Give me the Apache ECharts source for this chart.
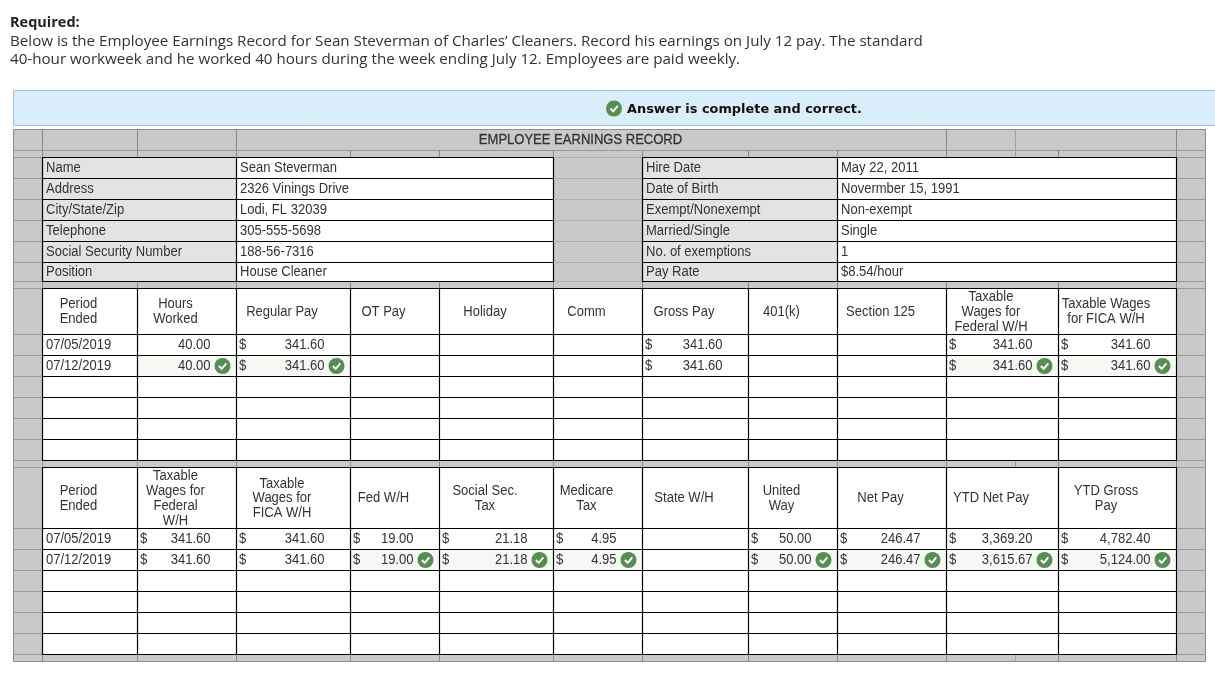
<!DOCTYPE html>
<html>
<head>
<meta charset="utf-8">
<title>Employee Earnings Record</title>
<script src="https://cdn.jsdelivr.net/npm/echarts@6/dist/echarts.min.js"></script>
<style>
html, body { margin: 0; padding: 0; background: #fff; }
#chart { width: 1215px; height: 693px; }
</style>
</head>
<body>
<div id="chart"></div>
<script>
// page text
var requiredLabel = 'Required:';
var promptLines = [
	'Below is the Employee Earnings Record for Sean Steverman of Charles\u2019 Cleaners. Record his earnings on July 12 pay. The standard',
	'40-hour workweek and he worked 40 hours during the week ending July 12. Employees are paid weekly.'
];
var answerText = 'Answer is complete and correct.';
var tableTitle = 'EMPLOYEE EARNINGS RECORD';

// employee info block
var infoLabelsLeft = ['Name', 'Address', 'City/State/Zip', 'Telephone', 'Social Security Number', 'Position'];
var infoValuesLeft = ['Sean Steverman', '2326 Vinings Drive', 'Lodi, FL 32039', '305-555-5698', '188-56-7316', 'House Cleaner'];
var infoLabelsRight = ['Hire Date', 'Date of Birth', 'Exempt/Nonexempt', 'Married/Single', 'No. of exemptions', 'Pay Rate'];
var infoValuesRight = ['May 22, 2011', 'Novermber 15, 1991', 'Non-exempt', 'Single', '1', '$8.54/hour'];

// earnings block, one entry per column
var earningsHeaders = [
	['Period', 'Ended'], ['Hours', 'Worked'], ['Regular Pay'], ['OT Pay'], ['Holiday'], ['Comm'],
	['Gross Pay'], ['401(k)'], ['Section 125'], ['Taxable', 'Wages for', 'Federal W/H'], ['Taxable Wages', 'for FICA W/H']
];
var earningsWeek1 = ['07/05/2019', '40.00', '341.60', '', '', '', '341.60', '', '', '341.60', '341.60'];
var earningsWeek2 = ['07/12/2019', '40.00', '341.60', '', '', '', '341.60', '', '', '341.60', '341.60'];
var earningsChecked = [1, 2, 9, 10];

// deductions block, one entry per column
var deductionHeaders = [
	['Period', 'Ended'], ['Taxable', 'Wages for', 'Federal', 'W/H'], ['Taxable', 'Wages for', 'FICA W/H'], ['Fed W/H'],
	['Social Sec.', 'Tax'], ['Medicare', 'Tax'], ['State W/H'], ['United', 'Way'], ['Net Pay'], ['YTD Net Pay'], ['YTD Gross', 'Pay']
];
var deductionWeek1 = ['07/05/2019', '341.60', '341.60', '19.00', '21.18', '4.95', '', '50.00', '246.47', '3,369.20', '4,782.40'];
var deductionWeek2 = ['07/12/2019', '341.60', '341.60', '19.00', '21.18', '4.95', '', '50.00', '246.47', '3,615.67', '5,124.00'];
var deductionChecked = [3, 4, 5, 7, 8, 9, 10];

// layout of the table, in page pixels
var colX = [42.5, 137.5, 236.5, 350.5, 439.5, 553.5, 642.5, 748.5, 837.5, 946.5, 1058.5, 1176.5];
var tableLeft = 13.5, tableRight = 1205.5, tableTop = 129.5, tableBottom = 661.5;
var infoY = [157.5, 178.5, 199.5, 220.5, 241.5, 262.5, 281.5];
var earnY = [288.5, 334.5, 355.5, 376.5, 397.5, 418.5, 439.5, 460.5];
var deductY = [467.5, 528.5, 549.5, 570.5, 591.5, 612.5, 633.5, 654.5];
var TABLE_FONT = '"Liberation Sans", Arial, sans-serif';
var TEXT = '#333333', BLACK = '#000000', RULE = '#9a9a9a', STRIP = '#c9c9c9';
var TABLE_SQUEEZE = 0.93; // the screenshot's table text is 14px tall but narrow

var fills = [], rules = [], labels = [], checks = [];

function fill(x0, y0, x1, y1, color, stroke) {
	fills.push({ x0: x0, y0: y0, x1: x1, y1: y1, color: color, stroke: stroke });
}
function rule(x0, y0, x1, y1, color, width) {
	rules.push({ x0: x0, y0: y0, x1: x1, y1: y1, color: color, width: width || 1 });
}
function label(x, y, text, align, style) {
	labels.push(Object.assign({ x: x, y: y, text: text, align: align || 'left' }, style || {}));
}

// page header and answer banner
label(10, 23, requiredLabel, 'left', { font: '"Open Sans", sans-serif', size: 14.5, weight: 'bold', color: '#222', squeeze: 1 });
promptLines.forEach(function (line, i) {
	label(10, 42 + i * 18, line, 'left', { font: '"Open Sans", sans-serif', size: 15.17, color: '#333', squeeze: 1 });
});
fill(13.5, 90.5, 1216, 125.5, '#d9edfb', '#a3c1d8');
checks.push({ x: 614, y: 108.5, r: 8 });
label(627, 109.5, answerText, 'left', { font: '"DejaVu Sans", sans-serif', size: 12.9, weight: 'bold', color: '#111', squeeze: 1 });

// gray table body
fill(tableLeft, tableTop, tableRight, tableBottom, STRIP, '#8c8c8c');

function gridRows(rows, x0, x1, color, width) {
	rows.forEach(function (y) { rule(x0, y, x1, y, color, width); });
}

// side strips carry a light line at each row
var sideRows = [150.5].concat(infoY, earnY, deductY);
gridRows(sideRows, tableLeft, colX[0], RULE);
gridRows(sideRows, colX[11], tableRight, RULE);
gridRows(infoY, colX[5], colX[6], '#b0b0b0');
rule(colX[0], 150.5, colX[11], 150.5, RULE);

// thin rules inside the gray bands
[[tableTop, 157.5, [0, 1, 2, 9, 11]], [150.5, 157.5, [3, 4, 5, 6, 7, 8, 10]], [281.5, 288.5, [0, 1, 2, 3, 4, 5, 6, 7, 8, 9, 10, 11]],
	[460.5, 467.5, [0, 1, 2, 3, 4, 5, 6, 7, 8, 9, 10, 11]], [654.5, tableBottom, [0, 1, 2, 3, 4, 5, 6, 7, 8, 9, 10, 11]]].forEach(function (band) {
	band[2].forEach(function (c) { rule(colX[c], band[0], colX[c], band[1], '#888888'); });
});
[[tableTop, 157.5], [460.5, 467.5], [654.5, tableBottom]].forEach(function (band) {
	rule(1015.5, band[0], 1015.5, band[1], '#a0a0a0');
});
label(580.5, 140, tableTitle, 'center', { size: 14, weight: 500, stroke: true });

// employee info block
function infoBlock(labelX0, valueX0, valueX1, names, values) {
	fill(labelX0, infoY[0], valueX0, infoY[6], '#e3e3e3');
	fill(valueX0, infoY[0], valueX1, infoY[6], '#ffffff');
	gridRows(infoY, labelX0, valueX1, BLACK, 1.2);
	[labelX0, valueX0, valueX1].forEach(function (x) { rule(x, infoY[0], x, infoY[6], BLACK, 1.2); });
	names.forEach(function (name, i) {
		var mid = (infoY[i] + infoY[i + 1]) / 2;
		label(labelX0 + 3.5, mid, name);
		label(valueX0 + 3.5, mid, values[i]);
	});
}
infoBlock(colX[0], colX[2], colX[5], infoLabelsLeft, infoValuesLeft);
infoBlock(colX[6], colX[8], colX[11], infoLabelsRight, infoValuesRight);

// earnings and deductions blocks
function payBlock(rows, headers, week1, week2, checked, noDollar) {
	fill(colX[0], rows[0], colX[11], rows[7], '#ffffff');
	gridRows(rows, colX[0], colX[11], BLACK, 1.2);
	colX.forEach(function (x) { rule(x, rows[0], x, rows[7], BLACK, 1.2); });
	var headMid = (rows[0] + rows[1]) / 2 + 0.5;
	headers.forEach(function (lines, c) {
		var cx = (colX[c] + colX[c + 1]) / 2 - 11.5;
		lines.forEach(function (line, i) {
			label(cx, headMid + (i - (lines.length - 1) / 2) * 14.8, line, 'center');
		});
	});
	[week1, week2].forEach(function (week, r) {
		var mid = (rows[r + 1] + rows[r + 2]) / 2;
		week.forEach(function (value, c) {
			if (value === '') return;
			if (c === 0) {
				label(colX[0] + 3.5, mid, value);
				return;
			}
			if (noDollar.indexOf(c) < 0) label(colX[c] + 2.5, mid, '$');
			label(colX[c + 1] - 26, mid, value, 'right');
		});
	});
	checked.forEach(function (c) {
		fill(colX[c] + 1, rows[2] + 1, colX[c + 1] - 1, rows[3] - 1, '#f5f8f3');
		checks.push({ x: colX[c + 1] - 14, y: (rows[2] + rows[3]) / 2, r: 8 });
	});
}
payBlock(earnY, earningsHeaders, earningsWeek1, earningsWeek2, earningsChecked, [1]);
payBlock(deductY, deductionHeaders, deductionWeek1, deductionWeek2, deductionChecked, []);

function customSeries(items, draw, z) {
	return {
		type: 'custom',
		coordinateSystem: 'cartesian2d',
		z: z,
		silent: true,
		clip: false,
		animation: false,
		data: items.map(function (d) { return [d.x0 !== undefined ? d.x0 : d.x, d.y0 !== undefined ? d.y0 : d.y]; }),
		renderItem: function (params, api) { return draw(items[params.dataIndex], api); }
	};
}

var chart = echarts.init(document.getElementById('chart'), null, { renderer: 'canvas' });
chart.setOption({
	backgroundColor: '#ffffff',
	animation: false,
	tooltip: { show: false },
	grid: { left: 0, right: 0, top: 0, bottom: 0 },
	xAxis: { type: 'value', min: 0, max: 1215, show: false },
	yAxis: { type: 'value', min: 0, max: 693, inverse: true, show: false },
	series: [
		customSeries(fills, function (d, api) {
			var a = api.coord([d.x0, d.y0]), b = api.coord([d.x1, d.y1]);
			return {
				type: 'rect',
				shape: { x: a[0], y: a[1], width: b[0] - a[0], height: b[1] - a[1] },
				style: { fill: d.color, stroke: d.stroke || null, lineWidth: 1 }
			};
		}, 1),
		customSeries(rules, function (d, api) {
			var a = api.coord([d.x0, d.y0]), b = api.coord([d.x1, d.y1]);
			return {
				type: 'line',
				shape: { x1: a[0], y1: a[1], x2: b[0], y2: b[1] },
				style: { stroke: d.color, lineWidth: d.width }
			};
		}, 2),
		customSeries(checks, function (d, api) {
			var c = api.coord([d.x, d.y]), r = d.r;
			return {
				type: 'group',
				children: [
					{ type: 'circle', shape: { cx: c[0], cy: c[1], r: r }, style: { fill: '#568d52' } },
					{
						type: 'polyline',
						shape: { points: [[c[0] - r * 0.45, c[1]], [c[0] - r * 0.1, c[1] + r * 0.36], [c[0] + r * 0.48, c[1] - r * 0.32]] },
						style: { stroke: '#ffffff', fill: null, lineWidth: 2 }
					}
				]
			};
		}, 3),
		customSeries(labels, function (d, api) {
			var c = api.coord([d.x, d.y]);
			return {
				type: 'text',
				x: c[0],
				y: c[1],
				scaleX: d.squeeze || TABLE_SQUEEZE,
				style: {
					text: d.text,
					fill: d.color || TEXT,
					font: (d.weight || 'normal') + ' ' + (d.size || 14) + 'px ' + (d.font || TABLE_FONT),
					align: d.align,
					verticalAlign: 'middle',
					stroke: d.stroke ? TEXT : null,
					lineWidth: d.stroke ? 0.3 : 0
				}
			};
		}, 4)
	]
});
</script>
</body>
</html>
